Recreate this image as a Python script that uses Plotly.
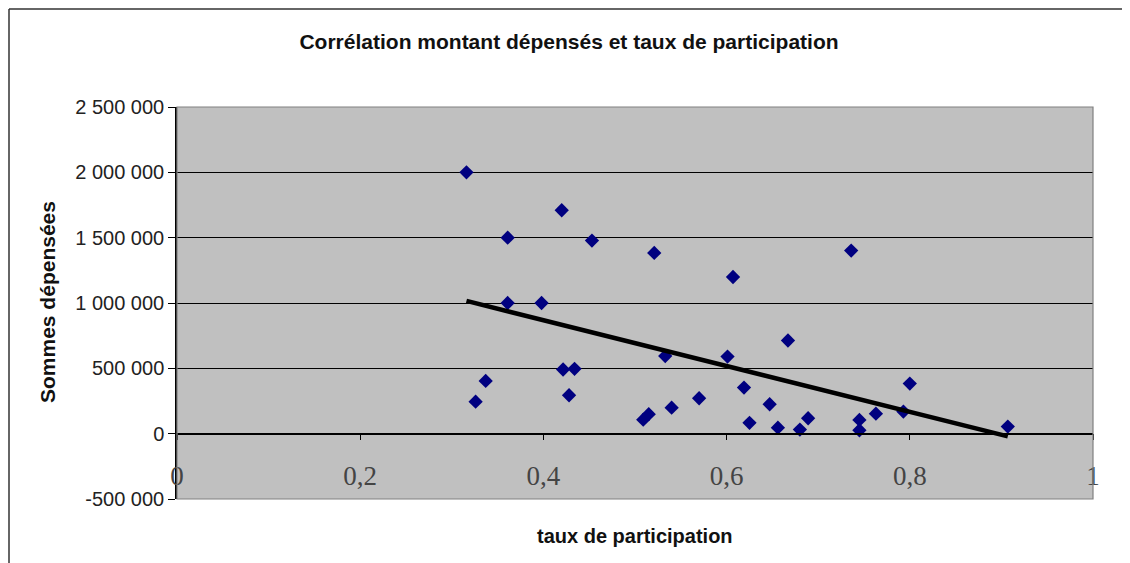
import numpy as np
import plotly.graph_objects as go

# taux de participation / sommes dépensées
taux = [0.316, 0.326, 0.337, 0.361, 0.361, 0.398, 0.420, 0.4215, 0.428, 0.434,
        0.453, 0.509, 0.515, 0.521, 0.533, 0.540, 0.570, 0.601, 0.607, 0.619,
        0.625, 0.647, 0.656, 0.667, 0.680, 0.689, 0.736, 0.745, 0.745, 0.763,
        0.793, 0.800, 0.907]
sommes = [2000000, 245000, 404000, 1500000, 1000000, 1000000, 1710000, 491000, 294000, 496000,
          1478000, 107000, 149000, 1383000, 594000, 199000, 271000, 590000, 1199000, 353000,
          83000, 225000, 46000, 713000, 31000, 118000, 1401000, 105000, 26000, 153000,
          169000, 383000, 54000]

x_ticks = [0, 0.2, 0.4, 0.6, 0.8, 1]
x_tick_labels = ["0", "0,2", "0,4", "0,6", "0,8", "1"]
y_ticks = [-500000, 0, 500000, 1000000, 1500000, 2000000, 2500000]
y_tick_labels = ["-500 000", "0", "500 000", "1 000 000", "1 500 000", "2 000 000", "2 500 000"]

y_min, y_max = -500000, 2500000

# droite de tendance linéaire (moindres carrés, comme Excel)
slope, intercept = np.polyfit(taux, sommes, 1)
trend_x = [min(taux), max(taux)]
trend_y = [slope * v + intercept for v in trend_x]

fig = go.Figure()
fig.add_trace(go.Scatter(
    x=taux, y=sommes, mode="markers",
    marker=dict(symbol="diamond", size=11, color="#000080"),
    showlegend=False,
))
fig.add_trace(go.Scatter(
    x=trend_x, y=trend_y, mode="lines",
    line=dict(color="black", width=4.5),
    showlegend=False,
))

zero_pos = (0 - y_min) / (y_max - y_min)

# bords du cadre extérieur (en coordonnées "paper" de la zone de tracé)
frame_left = -(169 - 1) / 916
frame_top = (499 - 9) / 392
frame_right = (1160 - 177) / 916
frame_bottom = -(600 - 499) / 392

# la page html ajoute 8px de marge au body -> figure 1122x555
fig.update_layout(
    width=1122, height=555,
    margin=dict(l=169, r=37, t=99, b=64),
    paper_bgcolor="white",
    plot_bgcolor="#C0C0C0",
    font=dict(family="Liberation Sans, Arial", color="#222222"),
    title=dict(
        text="<b>Corrélation montant dépensés et taux de participation</b>",
        x=0.5, xanchor="center", y=1 - 34 / 555, yanchor="middle",
        font=dict(size=21, color="#111111"),
    ),
    xaxis=dict(
        range=[0, 1], tickvals=x_ticks, ticktext=x_tick_labels,
        anchor="free", position=zero_pos,
        showline=True, linecolor="black", linewidth=1.5,
        ticks="outside", ticklen=6, tickcolor="black", tickwidth=1.3,
        showgrid=False, zeroline=False,
        tickfont=dict(family="Liberation Serif, Times New Roman", size=27, color="#444444"),
        ticklabelstandoff=12,
    ),
    yaxis=dict(
        range=[y_min, y_max], tickvals=y_ticks, ticktext=y_tick_labels,
        showline=True, linecolor="black", linewidth=1.5,
        ticks="outside", ticklen=7, tickcolor="black", tickwidth=1.3,
        showgrid=True, gridcolor="black", gridwidth=1.3, zeroline=False,
        tickfont=dict(size=20, color="#222222"),
    ),
    annotations=[
        dict(text="<b>taux de participation</b>", xref="paper", yref="paper",
             x=0.5, y=-(536 - 499) / 392, xanchor="center", yanchor="middle",
             showarrow=False, font=dict(size=20, color="#111111")),
        dict(text="<b>Sommes dépensées</b>", xref="paper", yref="paper",
             x=-(177 - 47) / 916, y=(499 - 302) / 392, textangle=-90,
             xanchor="center", yanchor="middle",
             showarrow=False, font=dict(size=21, color="#111111")),
    ],
    shapes=[
        dict(type="rect", xref="paper", yref="paper", x0=0, x1=1, y0=0, y1=1,
             line=dict(color="#808080", width=1.2), layer="above"),
        dict(type="line", xref="paper", yref="paper",
             x0=frame_left, x1=frame_right, y0=frame_top, y1=frame_top,
             line=dict(color="#333333", width=1.5), layer="below"),
        dict(type="line", xref="paper", yref="paper",
             x0=frame_left, x1=frame_left, y0=frame_bottom, y1=frame_top,
             line=dict(color="#333333", width=1.5), layer="below"),
    ],
)

fig.write_html("out.html")
